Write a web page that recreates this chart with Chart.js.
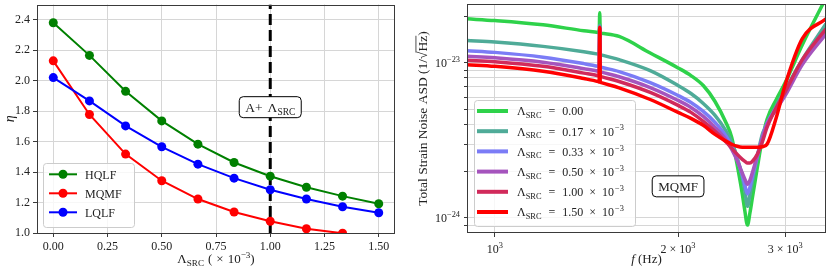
<!DOCTYPE html>
<html>
<head>
<meta charset="utf-8">
<script src="https://cdn.jsdelivr.net/npm/chart.js@4.4.0/dist/chart.umd.min.js"></script>
<style>
  html, body { margin: 0; padding: 0; background: #fff; }
  #wrap { position: relative; width: 831px; height: 271px; }
  canvas { position: absolute; top: 0; }
  #left { left: 0; }
  #right { left: 415px; }
</style>
</head>
<body>
<div id="wrap">
  <canvas id="left" width="415" height="271"></canvas>
  <canvas id="right" width="416" height="271"></canvas>
</div>
<script>
// ---- left panel: eta vs Lambda_SRC ----
var lambdaSrc = [0, 0.1667, 0.3333, 0.5, 0.6667, 0.8333, 1.0, 1.1667, 1.3333, 1.5];
var etaHQLF = [2.38, 2.166, 1.93, 1.736, 1.583, 1.463, 1.373, 1.30, 1.242, 1.192];
var etaMQMF = [2.13, 1.778, 1.518, 1.343, 1.223, 1.138, 1.077, 1.028, 0.998, null];
var etaLQLF = [2.02, 1.867, 1.703, 1.566, 1.452, 1.36, 1.284, 1.223, 1.172, 1.133];
var lambdaTicks = [0, 0.25, 0.5, 0.75, 1.0, 1.25, 1.5];
var etaTicks = [1.0, 1.2, 1.4, 1.6, 1.8, 2.0, 2.2, 2.4];
var etaMin = 1.0, etaMax = 2.5;
var lambdaAplus = 1.0;

// ---- right panel: total strain noise ASD, MQMF ----
var freqHz = [900, 1000, 1200, 1400, 1478, 1481, 1484, 1487, 1490, 1493, 1496, 1600, 1800, 2000, 2100, 2200, 2300, 2400,
  2450, 2500, 2550, 2575, 2600, 2625, 2650, 2700, 2750, 2800, 2900, 3000, 3200, 3500];
// values in units of 1e-24 1/sqrt(Hz)
var asd000 = [19.25, 18.77, 17.62, 16.12, 15.71, 15.69, 15.65, 21.1, 15.61, 15.57, 15.55, 14.82, 11.59, 9.29, 8.29, 7.15, 5.64, 4.08,
  3.31, 2.22, 1.43, 1.11, 0.90, 1.08, 1.36, 2.13, 3.22, 4.32, 5.81, 7.47, 13.1, 26.3];
var asd017 = [13.97, 13.64, 12.79, 11.82, 11.40, 11.38, 11.36, 17.49, 11.31, 11.29, 11.27, 10.50, 8.92, 7.15, 6.35, 5.48, 4.59, 3.62,
  3.08, 2.47, 1.83, 1.49, 1.19, 1.41, 1.73, 2.50, 3.46, 3.96, 5.32, 6.74, 10.50, 17.88];
var asd033 = [12.00, 11.70, 10.90, 9.90, 9.51, 9.49, 9.47, 17.01, 9.43, 9.41, 9.39, 8.80, 7.47, 6.17, 5.56, 4.87, 4.14, 3.36,
  2.90, 2.39, 1.89, 1.63, 1.43, 1.58, 1.86, 2.50, 3.31, 4.08, 5.16, 6.35, 10.04, 15.89];
var asd050 = [11.06, 10.81, 10.12, 9.19, 8.84, 8.82, 8.80, 17.01, 8.76, 8.74, 8.72, 8.15, 6.94, 5.73, 5.16, 4.52, 3.84, 3.17,
  2.77, 2.36, 1.95, 1.78, 1.65, 1.75, 1.97, 2.54, 3.27, 4.02, 5.01, 6.17, 9.75, 15.42];
var asd100 = [10.42, 10.19, 9.51, 8.60, 8.27, 8.25, 8.23, 17.01, 8.20, 8.18, 8.16, 7.59, 6.45, 5.32, 4.80, 4.20, 3.62, 3.08,
  2.82, 2.58, 2.39, 2.32, 2.26, 2.26, 2.32, 2.58, 3.08, 3.84, 5.16, 6.54, 10.50, 16.61];
var asd150 = [9.75, 9.51, 8.84, 7.93, 7.58, 7.56, 7.54, 16.85, 7.50, 7.48, 7.46, 6.91, 5.81, 4.80, 4.39, 3.96, 3.46, 3.12,
  2.99, 2.90, 2.86, 2.86, 2.86, 2.86, 2.86, 2.86, 2.88, 2.99, 4.45, 7.25, 14.33, 19.25];
var asdUnit = 1e-24;
var lambdaCases = ['0.00', '0.17', '0.33', '0.50', '1.00', '1.50'];
var asdColors = ['#2ed24a', '#4fab98', '#7b7cf6', '#a554bd', '#d12a5b', '#ff0000'];
var freqTicks = [1000, 2000, 3000];
var asdGrid = [9e-25, 1e-24, 2e-24, 3e-24, 4e-24, 5e-24, 6e-24, 7e-24, 8e-24, 9e-24, 1e-23, 2e-23];
var asdLabelled = [1e-24, 1e-23];
var freqMin = 900, freqMax = 3500, asdMin = 8.1e-25, asdMax = 2.4e-23;

var SERIF = '"Liberation Serif", "DejaVu Serif", serif';
var GRID = '#d6d6d6';
var INK = '#222';
var FRAME = '#3a3a3a';

// text with sub/superscripts: parts = [[text, kind]], kind '', 'sub', 'sup', 'it', 'ov', or [px, 'gap']
function fontFor(kind, size) {
  var small = kind === 'sub' || kind === 'sup';
  return (kind === 'it' ? 'italic ' : '') + (small ? size * 0.7 : size) + 'px ' + SERIF;
}
function richWidth(ctx, parts, size) {
  var w = 0;
  parts.forEach(function (p) {
    if (p[1] === 'gap') { w += p[0]; return; }
    ctx.font = fontFor(p[1], size);
    w += ctx.measureText(p[0]).width;
  });
  return w;
}
function drawRich(ctx, parts, x, y, size, align) {
  var w = richWidth(ctx, parts, size);
  var cx = align === 'center' ? x - w / 2 : (align === 'right' ? x - w : x);
  ctx.textAlign = 'left';
  ctx.textBaseline = 'alphabetic';
  parts.forEach(function (p) {
    if (p[1] === 'gap') { cx += p[0]; return; }
    ctx.font = fontFor(p[1], size);
    var dy = p[1] === 'sub' ? size * 0.22 : (p[1] === 'sup' ? -size * 0.42 : 0);
    var pw = ctx.measureText(p[0]).width;
    ctx.fillText(p[0], cx, y + dy);
    if (p[1] === 'ov') {
      ctx.beginPath();
      ctx.lineWidth = 0.8;
      ctx.moveTo(cx - 1, y - size * 0.82);
      ctx.lineTo(cx + pw, y - size * 0.82);
      ctx.stroke();
    }
    cx += pw;
  });
}
function drawRichUp(ctx, parts, x, y, size) {
  ctx.save();
  ctx.translate(x, y);
  ctx.rotate(-Math.PI / 2);
  drawRich(ctx, parts, 0, 0, size, 'center');
  ctx.restore();
}
function roundRect(ctx, x, y, w, h, r) {
  ctx.beginPath();
  ctx.moveTo(x + r, y);
  ctx.lineTo(x + w - r, y);
  ctx.arcTo(x + w, y, x + w, y + r, r);
  ctx.lineTo(x + w, y + h - r);
  ctx.arcTo(x + w, y + h, x + w - r, y + h, r);
  ctx.lineTo(x + r, y + h);
  ctx.arcTo(x, y + h, x, y + h - r, r);
  ctx.lineTo(x, y + r);
  ctx.arcTo(x, y, x + r, y, r);
  ctx.closePath();
}
function textBox(ctx, parts, cx, cy, size) {
  var w = richWidth(ctx, parts, size) + 12, h = 21;
  roundRect(ctx, cx - w / 2, cy - h / 2, w, h, 4);
  ctx.fillStyle = '#fff';
  ctx.fill();
  ctx.strokeStyle = '#000';
  ctx.lineWidth = 1;
  ctx.stroke();
  ctx.fillStyle = INK;
  drawRich(ctx, parts, cx, cy + size * 0.35, size, 'center');
}
function frame(ctx, a) {
  ctx.strokeStyle = FRAME;
  ctx.lineWidth = 1;
  ctx.strokeRect(Math.round(a.left) + 0.5, Math.round(a.top) + 0.5,
    Math.round(a.right - a.left) - 1, Math.round(a.bottom - a.top) - 1);
}
function legendBox(ctx, x, y, w, h) {
  roundRect(ctx, x + 0.5, y + 0.5, w, h, 3);
  ctx.fillStyle = 'rgba(255,255,255,0.8)';
  ctx.fill();
  ctx.strokeStyle = '#cccccc';
  ctx.lineWidth = 1;
  ctx.stroke();
}
function fixFit(w, h) {
  return function (s) {
    if (w) s.width = w;
    if (h) s.height = h;
    s.paddingTop = s.paddingBottom = s.paddingLeft = s.paddingRight = 0;
  };
}
function pts(xs, ys, k) {
  return xs.map(function (x, i) { return { x: x, y: ys[i] == null ? null : ys[i] * (k || 1) }; });
}

var lambdaSub = [['Λ', ''], ['SRC', 'sub']];

// ---------------- left chart ----------------
var leftRows = [
  { label: 'HQLF', color: '#008000', data: etaHQLF },
  { label: 'MQMF', color: '#ff0000', data: etaMQMF },
  { label: 'LQLF', color: '#0000ff', data: etaLQLF }
];

var leftDecor = {
  id: 'leftDecor',
  afterDatasetsDraw: function (chart) {
    var ctx = chart.ctx, a = chart.chartArea;
    var xs = chart.scales.x, ys = chart.scales.y;
    ctx.save();
    frame(ctx, a);
    textBox(ctx, [['A+', ''], [5, 'gap']].concat(lambdaSub), xs.getPixelForValue(lambdaAplus), ys.getPixelForValue(1.826), 13.5);

    // legend, lower left
    legendBox(ctx, a.left + 6, a.bottom - 70, 91, 64);
    leftRows.forEach(function (r, i) {
      var y = a.bottom - 58.7 + i * 19;
      ctx.strokeStyle = r.color;
      ctx.fillStyle = r.color;
      ctx.lineWidth = 2;
      ctx.beginPath();
      ctx.moveTo(a.left + 12, y);
      ctx.lineTo(a.left + 40, y);
      ctx.stroke();
      ctx.beginPath();
      ctx.arc(a.left + 26, y, 4.5, 0, Math.PI * 2);
      ctx.fill();
      ctx.fillStyle = INK;
      drawRich(ctx, [[r.label, '']], a.left + 48, y + 4.3, 12, 'left');
    });

    // axis titles
    ctx.fillStyle = INK;
    ctx.strokeStyle = INK;
    drawRich(ctx, lambdaSub.concat([[4, 'gap'], ['(', ''], [4, 'gap'], ['×', ''], [4, 'gap'], ['10', ''], ['−3', 'sup'], [')', '']]),
      (a.left + a.right) / 2, 263, 13, 'center');
    drawRichUp(ctx, [['η', 'it']], 14, (a.top + a.bottom) / 2, 14);
    ctx.restore();
  }
};

var leftDatasets = leftRows.map(function (r, i) {
  return {
    label: r.label,
    data: pts(lambdaSrc, r.data),
    borderColor: r.color,
    backgroundColor: r.color,
    borderWidth: 2,
    pointRadius: 4.5,
    pointHoverRadius: 4.5,
    pointBorderWidth: 0,
    order: 3 - i,
    clip: 0
  };
});
leftDatasets.push({
  label: 'A+',
  data: [{ x: lambdaAplus, y: etaMin }, { x: lambdaAplus, y: etaMax }],
  borderColor: '#000',
  borderWidth: 3,
  borderDash: [11, 5],
  pointRadius: 0,
  order: 10,
  clip: 0
});

new Chart(document.getElementById('left'), {
  type: 'line',
  data: { datasets: leftDatasets },
  options: {
    responsive: false,
    animation: false,
    devicePixelRatio: 1,
    layout: { padding: { left: 0, right: 20, top: 4, bottom: 0 } },
    plugins: { legend: { display: false }, tooltip: { enabled: false } },
    scales: {
      x: {
        type: 'linear', min: -0.075, max: 1.575,
        afterBuildTicks: function (s) { s.ticks = lambdaTicks.map(function (v) { return { value: v }; }); },
        afterFit: fixFit(0, 38),
        ticks: { callback: function (v) { return v.toFixed(2); }, autoSkip: false, maxRotation: 0,
          padding: 3, color: INK, font: { family: SERIF, size: 12 } },
        grid: { color: GRID, tickColor: FRAME, tickLength: 4 },
        border: { display: false }
      },
      y: {
        type: 'linear', min: etaMin, max: etaMax,
        afterBuildTicks: function (s) { s.ticks = etaTicks.map(function (v) { return { value: v }; }); },
        afterFit: fixFit(37, 0),
        ticks: { callback: function (v) { return v.toFixed(1); }, autoSkip: false,
          padding: 3, color: INK, font: { family: SERIF, size: 12 } },
        grid: { color: GRID, tickColor: FRAME, tickLength: 4 },
        border: { display: false }
      }
    }
  },
  plugins: [leftDecor]
});

// ---------------- right chart ----------------
var asdSeries = [asd000, asd017, asd033, asd050, asd100, asd150];

function lambdaLabel(v) {
  var p = lambdaSub.concat([[7, 'gap'], ['=', ''], [7, 'gap'], [v, '']]);
  if (v !== '0.00') p = p.concat([[6, 'gap'], ['×', ''], [6, 'gap'], ['10', ''], [1, 'gap'], ['−3', 'sup']]);
  return p;
}
function powLabel(v) {
  var e = Math.floor(Math.log10(v) + 1e-9);
  var m = Math.round(v / Math.pow(10, e));
  var ex = e < 0 ? '−' + (-e) : String(e);
  return (m === 1 ? [] : [[m + ' × ', '']]).concat([['10', ''], [ex, 'sup']]);
}

var rightDecor = {
  id: 'rightDecor',
  afterDatasetsDraw: function (chart) {
    var ctx = chart.ctx, a = chart.chartArea;
    var xs = chart.scales.x, ys = chart.scales.y;
    ctx.save();
    frame(ctx, a);

    // tick labels
    ctx.fillStyle = INK;
    freqTicks.forEach(function (v) {
      drawRich(ctx, powLabel(v), xs.getPixelForValue(v), a.bottom + 20, 12, 'center');
    });
    asdLabelled.forEach(function (v) {
      drawRich(ctx, powLabel(v), a.left - 7, ys.getPixelForValue(v) + 4, 12, 'right');
    });

    textBox(ctx, [['MQMF', '']], xs.getPixelForValue(2000), ys.getPixelForValue(1.6e-24), 13);

    // legend
    legendBox(ctx, a.left + 7, a.bottom - 133, 161, 126);
    asdSeries.forEach(function (arr, i) {
      var y = a.bottom - 122 + i * 20.2;
      ctx.strokeStyle = asdColors[i];
      ctx.lineWidth = 4;
      ctx.beginPath();
      ctx.moveTo(a.left + 10, y);
      ctx.lineTo(a.left + 41, y);
      ctx.stroke();
      ctx.fillStyle = INK;
      drawRich(ctx, lambdaLabel(lambdaCases[i]), a.left + 50, y + 4.3, 12, 'left');
    });

    // axis titles
    ctx.fillStyle = INK;
    ctx.strokeStyle = INK;
    drawRich(ctx, [['f', 'it'], [' (Hz)', '']], (a.left + a.right) / 2, 263, 13, 'center');
    drawRichUp(ctx, [['Total Strain Noise ASD (1/√', ''], ['Hz', 'ov'], [')', '']], 12, (a.top + a.bottom) / 2, 13.5);
    ctx.restore();
  }
};

new Chart(document.getElementById('right'), {
  type: 'line',
  data: {
    datasets: asdSeries.map(function (arr, i) {
      return {
        label: lambdaCases[i],
        data: pts(freqHz, arr, asdUnit),
        borderColor: asdColors[i],
        borderWidth: 3.5,
        pointRadius: 0,
        cubicInterpolationMode: 'monotone',
        order: asdSeries.length - i,
        clip: 0
      };
    })
  },
  options: {
    responsive: false,
    animation: false,
    devicePixelRatio: 1,
    layout: { padding: { left: 0, right: 5, top: 4, bottom: 0 } },
    plugins: { legend: { display: false }, tooltip: { enabled: false } },
    scales: {
      x: {
        type: 'logarithmic', min: freqMin, max: freqMax,
        afterBuildTicks: function (s) { s.ticks = freqTicks.map(function (v) { return { value: v }; }); },
        afterFit: fixFit(0, 38),
        ticks: { callback: function () { return ''; }, autoSkip: false, maxRotation: 0 },
        grid: { color: GRID, tickColor: FRAME, tickLength: 4 },
        border: { display: false }
      },
      y: {
        type: 'logarithmic', min: asdMin, max: asdMax,
        afterBuildTicks: function (s) { s.ticks = asdGrid.map(function (v) { return { value: v }; }); },
        afterFit: fixFit(52, 0),
        ticks: { callback: function () { return ''; }, autoSkip: false },
        grid: { color: GRID, tickColor: FRAME, tickLength: 3 },
        border: { display: false }
      }
    }
  },
  plugins: [rightDecor]
});
</script>
</body>
</html>
